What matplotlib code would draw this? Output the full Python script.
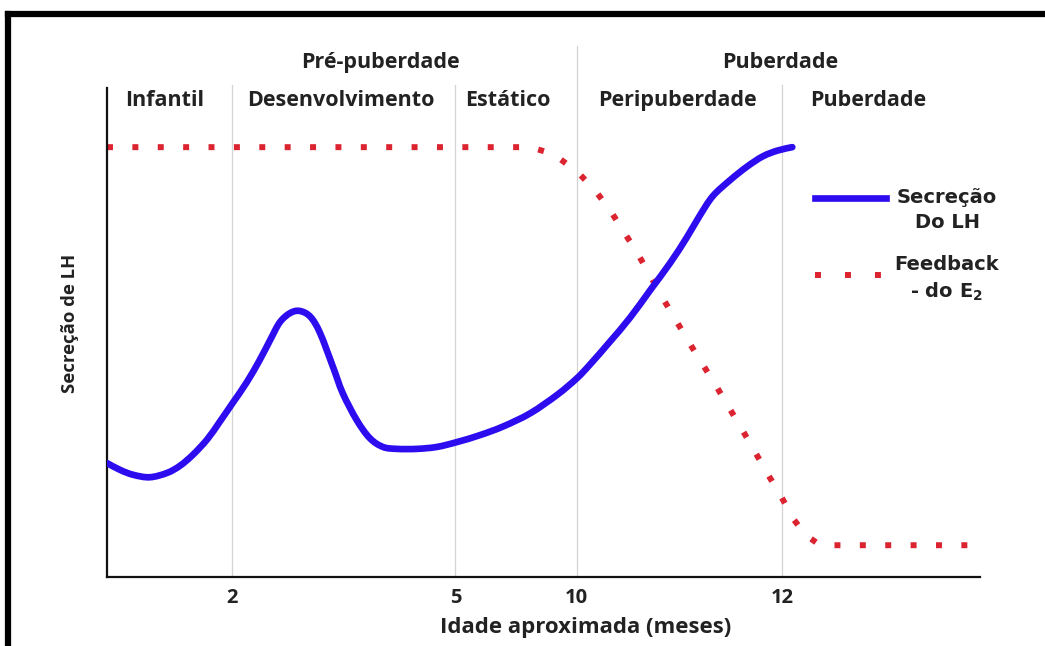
import numpy as np
import matplotlib.pyplot as plt
from matplotlib.lines import Line2D
from matplotlib.path import Path
from matplotlib.patches import PathPatch

# posicao horizontal (0 = eixo y, 100 = fim do eixo x) e nivel relativo (0-100)
lh_x = [0, 1.5, 3.0, 4.9, 6.9, 8.4, 9.9, 11.5, 12.9, 14.4, 16.0, 17.5, 18.7,
        19.8, 21.0, 22.1, 23.3, 24.4, 25.9, 27.0, 28.6, 30.1, 31.6, 33.2, 35.5,
        37.8, 40.1, 42.7, 45.4, 48.5, 51.6, 53.8, 55.3, 57.6, 59.9, 62.2, 64.5,
        66.4, 67.9, 69.4, 71.4, 73.3, 75.1, 76.8, 78.5]
lh_y = [23.3, 21.9, 20.9, 20.4, 21.3, 22.8, 25.1, 28.2, 31.7, 35.6, 39.8, 44.4, 48.5,
        52.1, 54.0, 54.4, 53.2, 49.9, 42.9, 37.6, 32.1, 28.4, 26.6, 26.2, 26.2,
        26.6, 27.6, 29.0, 30.8, 33.5, 37.3, 40.6, 43.4, 48.1, 53.0, 58.6, 64.2,
        69.4, 73.9, 77.9, 81.2, 83.9, 86.0, 87.2, 87.9]

fb_x = [0, 48.5, 51.1, 53.8, 55.9, 57.7, 60.8, 63.8, 66.8, 69.9, 72.9, 75.8,
        77.3, 78.7, 80.0, 81.7, 98.6]
fb_y = [87.9, 87.9, 86.5, 83.0, 79.1, 74.8, 66.1, 56.6, 47.6, 38.7, 29.7, 20.7,
        16.2, 11.7, 8.6, 6.5, 6.5]

tick_pos = [14.3, 39.9, 53.8, 77.3]
tick_labels = ['2', '5', '10', '12']

fases = ['Infantil', 'Desenvolvimento', 'Estático', 'Peripuberdade', 'Puberdade']
fases_x = [6.6, 26.8, 45.9, 65.3, 87.2]
grupos = ['Pré-puberdade', 'Puberdade']
grupos_x = [31.3, 77.1]

azul = '#2d0cf0'
vermelho = '#dc2330'
texto = '#222222'
head_font = 'Open Sans'


#curva suave passando pelos pontos (catmull-rom desenhado como bezier)
def smooth_path(xs, ys):
    p = np.column_stack([xs, ys]).astype(float)
    p = np.vstack([p[0], p, p[-1]])
    verts = [p[1]]
    codes = [Path.MOVETO]
    for i in range(1, len(p) - 2):
        c1 = p[i] + (p[i + 1] - p[i - 1]) / 6
        c2 = p[i + 1] - (p[i + 2] - p[i]) / 6
        verts += [c1, c2, p[i + 1]]
        codes += [Path.CURVE4] * 3
    return Path(verts, codes)


fig = plt.figure(figsize=(10.45, 6.46), dpi=100)
ax = fig.add_axes([0.1024, 0.1068, 0.8354, 0.757])

# linhas de grade verticais, saindo acima do eixo
for i, xp in enumerate(tick_pos):
    top = 108.5 if i == 2 else 100.6
    ax.plot([xp, xp], [0, top], color='#d4d4d4', lw=0.9, zorder=0, clip_on=False)

ax.add_patch(PathPatch(smooth_path(lh_x, lh_y), facecolor='none', edgecolor=azul,
                       lw=4.8, capstyle='round', joinstyle='round', zorder=3))
ax.plot(fb_x, fb_y, color=vermelho, lw=4.3, linestyle=(0, (1, 3.25)),
        dash_capstyle='butt', zorder=2)

ax.set_xlim(0, 100)
ax.set_ylim(0, 100)
for s in ['top', 'right']:
    ax.spines[s].set_visible(False)
for s in ['left', 'bottom']:
    ax.spines[s].set_linewidth(1.6)
    ax.spines[s].set_color('#111111')
ax.set_yticks([])
ax.set_xticks(tick_pos)
ax.set_xticklabels(tick_labels, fontsize=14.5, fontweight='bold', color=texto,
                   family=head_font)
ax.tick_params(axis='x', length=0, pad=8)

for t, xp in zip(fases, fases_x):
    ax.text(xp, 97.4, t, ha='center', va='center', fontsize=15.5, fontweight='bold',
            color=texto, family=head_font)
for t, xp in zip(grupos, grupos_x):
    ax.text(xp, 105.3, t, ha='center', va='center', fontsize=15.5, fontweight='bold',
            color=texto, family=head_font)

fig.text(0.560, 0.029, 'Idade aproximada (meses)', ha='center', va='center',
         fontsize=16, fontweight='bold', color=texto, family=head_font)
fig.text(0.067, 0.50, 'Secreção de LH', ha='center', va='center', rotation=90,
         fontsize=13.3, fontweight='bold', color=texto, family=head_font)

# legenda manual
fig.add_artist(Line2D([0.780, 0.848], [0.694, 0.694], color=azul, lw=4.8,
                      transform=fig.transFigure))
fig.text(0.906, 0.695, 'Secreção', ha='center', va='center', fontsize=14,
         fontweight='bold', color=texto)
fig.text(0.907, 0.656, 'Do LH', ha='center', va='center', fontsize=14,
         fontweight='bold', color=texto)
fig.add_artist(Line2D([0.780, 0.848], [0.574, 0.574], color=vermelho, lw=4.3,
                      linestyle=(0, (1, 4.02)), dash_capstyle='butt',
                      transform=fig.transFigure))
fig.text(0.906, 0.590, 'Feedback', ha='center', va='center', fontsize=14,
         fontweight='bold', color=texto)
fig.text(0.906, 0.548, '- do E$_\\mathbf{2}$', ha='center', va='center', fontsize=14,
         fontweight='bold', color=texto)

# moldura preta
fig.add_artist(Line2D([0.0075, 0.0075], [0.0, 0.978], color='black', lw=4.5,
                      transform=fig.transFigure, solid_capstyle='projecting'))
fig.add_artist(Line2D([0.0075, 1.0], [0.978, 0.978], color='black', lw=4.5,
                      transform=fig.transFigure, solid_capstyle='projecting'))

fig.savefig('out.png', dpi=100)
